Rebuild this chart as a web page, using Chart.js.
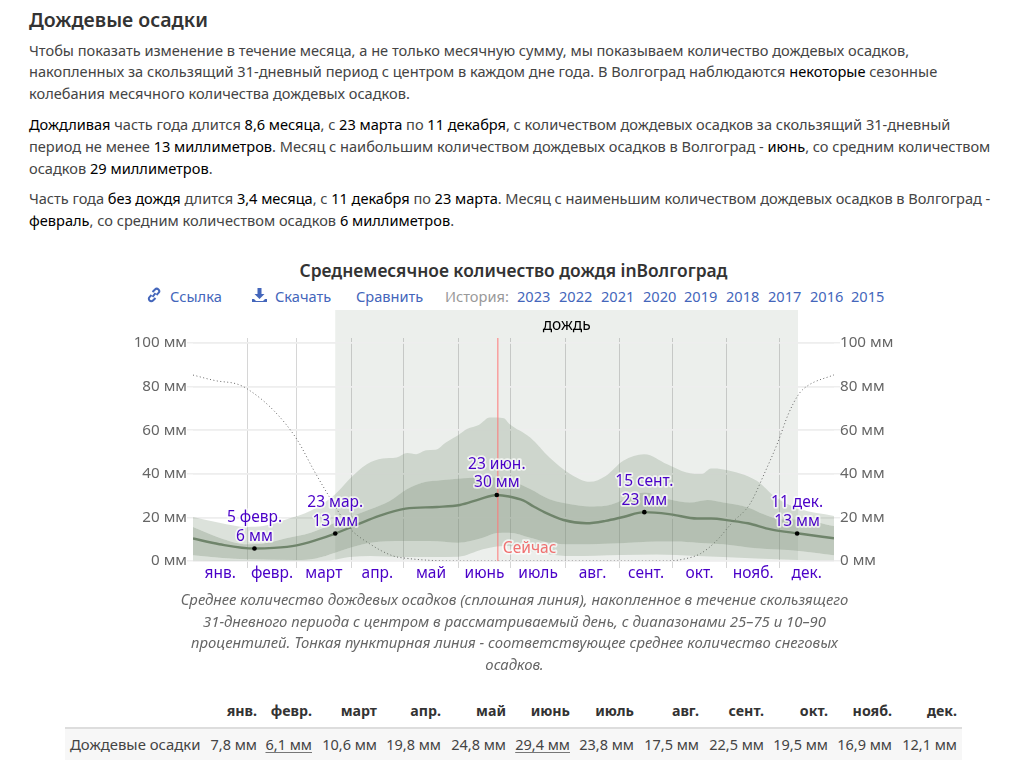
<!DOCTYPE html>
<html lang="ru">
<head>
<meta charset="utf-8">
<title>Дождевые осадки</title>
<script src="https://cdn.jsdelivr.net/npm/chart.js@4"></script>
<style>
  html, body { margin: 0; padding: 0; background: #fff; overflow: hidden; }
  body { width: 1019px; height: 771px; position: relative; font-family: "Noto Sans", sans-serif; color: #444; }
  .t { position: absolute; white-space: nowrap; font-size: 14.6px; line-height: 20px; }
  .t b { font-weight: 400; color: #000; }
  h2 { position: absolute; left: 29px; top: 8px; margin: 0; font-size: 19.5px; line-height: 24px; font-weight: 600; color: #333; }
  #title { position: absolute; left: 0; width: 1027px; top: 259px; text-align: center; font-size: 17.4px; line-height: 22px; font-weight: 600; color: #333; }
  .lnk { color: #4466bb; }
  .hist { color: #999; }
  .cap { position: absolute; left: 0; width: 1029px; text-align: center; font-style: italic; font-size: 14.9px; line-height: 20px; color: #666; white-space: nowrap; }
  svg { position: absolute; }
  #wrap { position: absolute; left: 120px; top: 300px; width: 780px; height: 290px; }
  #rowbg { position: absolute; left: 65px; top: 729px; width: 897px; height: 31px; background: #f7f7f7; }
  #rule { position: absolute; left: 65px; top: 727px; width: 897px; height: 2px; background: #ddd; }
  .th { position: absolute; top: 701px; font-size: 14.2px; line-height: 20px; font-weight: 700; color: #333; text-align: right; white-space: nowrap; }
  .td { position: absolute; top: 734px; font-size: 14.5px; line-height: 20px; color: #444; text-align: right; white-space: nowrap; }
  .td.u { text-decoration: underline; text-decoration-color: #777; text-underline-offset: 2px; }
</style>
</head>
<body>
<h2>Дождевые осадки</h2>
<div class="t" style="left:29px;top:40px">Чтобы показать изменение в течение месяца, а не только месячную сумму, мы показываем количество дождевых осадков,</div>
<div class="t" style="left:29px;top:61px">накопленных за скользящий 31-дневный период с центром в каждом дне года. В Волгоград наблюдаются <b>некоторые</b> сезонные</div>
<div class="t" style="left:29px;top:83px">колебания месячного количества дождевых осадков.</div>
<div class="t" style="left:29px;top:114px;letter-spacing:-0.025px"><b>Дождливая</b> часть года длится <b>8,6 месяца</b>, с <b>23 марта</b> по <b>11 декабря</b>, с количеством дождевых осадков за скользящий 31-дневный</div>
<div class="t" style="left:29px;top:136px;letter-spacing:-0.016px">период не менее <b>13 миллиметров</b>. Месяц с наибольшим количеством дождевых осадков в Волгоград - <b>июнь</b>, со средним количеством</div>
<div class="t" style="left:29px;top:158px">осадков <b>29 миллиметров</b>.</div>
<div class="t" style="left:29px;top:188px;letter-spacing:-0.04px">Часть года <b>без дождя</b> длится <b>3,4 месяца</b>, с <b>11 декабря</b> по <b>23 марта</b>. Месяц с наименьшим количеством дождевых осадков в Волгоград -</div>
<div class="t" style="left:29px;top:210px"><b>февраль</b>, со средним количеством осадков <b>6 миллиметров</b>.</div>

<div id="title">Среднемесячное количество дождя inВолгоград</div>
<svg style="left:146px;top:287px" width="16" height="16" viewBox="0 0 16 16"><path d="M6.5 5 9 2.5a2.4 2.4 0 0 1 3.5 3.4L10.5 8M9.5 11 7 13.5a2.4 2.4 0 0 1-3.5-3.4L5.5 8M6.5 9.8 9.5 6.2" fill="none" stroke="#4466bb" stroke-width="2"/></svg>
<svg style="left:252px;top:287px" width="15" height="16" viewBox="0 0 15 16"><path d="M5.5 1h4v6h3l-5 5-5-5h3zM0 12h2l2 2h7l2-2h2v3H0z" fill="#4466bb"/></svg>
<div class="t lnk" style="left:170px;top:286px">Ссылка</div>
<div class="t lnk" style="left:275px;top:286px">Скачать</div>
<div class="t lnk" style="left:356px;top:286px">Сравнить</div>
<div class="t hist" style="left:445px;top:286px">История:</div>
<div id="years"></div>

<div id="wrap"><canvas id="lluvia" width="780" height="290"></canvas></div>

<div class="cap" style="top:589px">Среднее количество дождевых осадков (сплошная линия), накопленное в течение скользящего</div>
<div class="cap" style="top:611px">31-дневного периода с центром в рассматриваемый день, с диапазонами 25–75 и 10–90</div>
<div class="cap" style="top:632px">процентилей. Тонкая пунктирная линия - соответствующее среднее количество снеговых</div>
<div class="cap" style="top:654px">осадков.</div>

<div id="rowbg"></div>
<div id="rule"></div>
<div class="td" style="left:70px;text-align:left;font-size:14.9px">Дождевые осадки</div>
<div id="tabla"></div>

<script>
// дни года: 0 = 1 янв., 365 = конец декабря
const inicioMes = [0, 31, 59, 90, 120, 151, 181, 212, 243, 273, 304, 334, 365];
const meses = ['янв.', 'февр.', 'март', 'апр.', 'май', 'июнь', 'июль', 'авг.', 'сент.', 'окт.', 'нояб.', 'дек.'];
const mitadMes = meses.map((m, i) => (inicioMes[i] + inicioMes[i + 1]) / 2);

// [день, мм]
const p90 = [[0,20.2],[15,17.6],[31,15.6],[40,16],[53,19],[67,23],[81,30.6],[89,37.5],[99,44.4],[108,47],[116,47.5],[122,49.5],[127,49],[133,50.8],[138,51],[144,54.4],[151,57.7],[156,60.5],[163,62.5],[169,65.8],[177,65.5],[180,63],[192,56.7],[203,47.5],[215,39.8],[226,36.3],[235,39],[245,46],[257,49],[270,44.4],[281,40.6],[290,40],[295,42.4],[302,42],[321,36.8],[332,29],[345,24],[365,20.7]];
const p75 = [[0,15.6],[15,10.7],[31,7.7],[40,8],[53,10.4],[67,13],[81,17.6],[89,20],[101,23.7],[112,27.5],[122,33],[131,36],[141,37],[154,38],[165,38.3],[177,38.3],[180,37.5],[192,33],[203,28.3],[215,26],[226,25],[235,25.3],[248,29],[257,31.4],[271,28.3],[283,26.8],[293,28],[302,26.8],[316,24.5],[325,21.4],[335,19.1],[345,19],[365,16]];
const media = [[0,10.3],[15,7.7],[35,5.7],[46,6],[59,7.2],[70,9.6],[81,12.6],[93,16.5],[106,20.7],[121,24],[139,24.8],[152,25.7],[163,28.3],[173,30.3],[180,29.6],[188,27.8],[194,25],[200,22.4],[211,18.8],[224,17.3],[235,18.4],[245,20.2],[257,22.4],[272,21.4],[287,19.5],[295,19.5],[306,18.5],[316,17.3],[329,14.5],[345,12.6],[365,10.4]];
const p25 = [[0,2.6],[15,1.5],[31,0.8],[59,0.5],[70,1.2],[81,3.8],[89,6],[101,8.4],[120,9.2],[135,9.2],[151,8.4],[165,10.7],[173,12.9],[180,13],[192,10.7],[203,8.4],[215,7.7],[226,7.7],[243,8.1],[264,8.9],[275,8.9],[287,8.4],[302,7.7],[321,5.8],[345,4.6],[365,2.6]];
const p10 = [[0,0.2],[40,0.1],[78,0.3],[89,1.8],[101,2.3],[120,1.8],[135,1.8],[151,2],[165,5.4],[173,6.7],[180,6.9],[192,4.6],[203,3],[215,2.3],[243,2.8],[264,3],[287,2.3],[302,1.8],[321,1.2],[345,0.5],[365,0.3]];
const nieve = [[0,85.3],[13,82.7],[25,81.2],[31,78.9],[46,69],[59,56],[69,41.3],[78,29],[89,15.3],[101,7.7],[114,2.3],[122,1.2],[135,0.3],[150,0],[270,0],[279,0.8],[289,3.4],[298,9.2],[307,17.6],[317,26],[326,41.3],[333,54.4],[339,67.4],[345,76.6],[350,80.4],[365,85.4]];

const aXY = (s) => s.map(([x, y]) => ({x, y}));

const marcas = [
  {dia: 35, mm: 5.7, l1: '5 февр.', l2: '6 мм'},
  {dia: 81, mm: 12.6, l1: '23 мар.', l2: '13 мм'},
  {dia: 173, mm: 30.3, l1: '23 июн.', l2: '30 мм'},
  {dia: 257, mm: 22.4, l1: '15 сент.', l2: '23 мм'},
  {dia: 344, mm: 12.6, l1: '11 дек.', l2: '13 мм'}
];
const hoy = 173.6;
const lluviaDesde = 81, lluviaHasta = 344.5;
const FUENTE = '"Noto Sans", sans-serif';

const bandaExt = 'rgba(116, 139, 112, 0.25)';
const bandaInt = 'rgba(116, 139, 112, 0.47)';

function textoHalo(ctx, txt, x, y, color) {
  ctx.lineJoin = 'round';
  ctx.lineWidth = 3.5;
  ctx.strokeStyle = 'rgba(255,255,255,0.7)';
  ctx.strokeText(txt, x, y);
  ctx.fillStyle = color;
  ctx.fillText(txt, x, y);
}

const fondoLluvia = {
  id: 'fondoLluvia',
  beforeDraw(chart) {
    const {ctx, scales: {x, y}} = chart;
    ctx.save();
    ctx.fillStyle = '#ecefec';
    const x0 = x.getPixelForValue(lluviaDesde), x1 = x.getPixelForValue(lluviaHasta);
    ctx.fillRect(x0, 10, x1 - x0, y.getPixelForValue(0) - 10);
    ctx.font = '15.5px ' + FUENTE;
    ctx.fillStyle = '#000';
    ctx.textAlign = 'center';
    ctx.textBaseline = 'middle';
    ctx.fillText('дождь', (x0 + x1) / 2, 26);
    ctx.restore();
  }
};

const anotaciones = {
  id: 'anotaciones',
  afterDatasetsDraw(chart) {
    const {ctx, scales: {x, y}} = chart;
    ctx.save();
    // línea de hoy
    const xh = x.getPixelForValue(hoy);
    ctx.strokeStyle = '#f77';
    ctx.lineWidth = 1;
    ctx.beginPath();
    ctx.moveTo(xh, y.top);
    ctx.lineTo(xh, y.getPixelForValue(0));
    ctx.stroke();
    ctx.font = '15.5px ' + FUENTE;
    ctx.textAlign = 'left';
    ctx.textBaseline = 'middle';
    textoHalo(ctx, 'Сейчас', xh + 5, y.getPixelForValue(0) - 12, '#f07070');

    ctx.textAlign = 'center';
    for (const m of marcas) {
      const px = x.getPixelForValue(m.dia), py = y.getPixelForValue(m.mm);
      ctx.fillStyle = '#000';
      ctx.beginPath();
      ctx.arc(px, py, 2.3, 0, Math.PI * 2);
      ctx.fill();
      textoHalo(ctx, m.l1, px, py - 30.5, '#4a00c8');
      textoHalo(ctx, m.l2, px, py - 12, '#4a00c8');
    }
    ctx.restore();
  }
};

const ejeY = {
  min: 0,
  max: 102.3,
  afterBuildTicks: (s) => { s.ticks = [0, 20, 40, 60, 80, 100].map(v => ({value: v})); },
  grid: {color: '#eeeeee', lineWidth: 1.5, tickLength: 6, tickColor: '#eeeeee'},
  border: {display: false},
  ticks: {color: '#666', font: {size: 15.2, family: FUENTE}, padding: 0, callback: (v) => v + ' мм'}
};

new Chart(document.getElementById('lluvia'), {
  type: 'line',
  data: {
    datasets: [
      {label: 'p10', data: aXY(p10), pointRadius: 0, borderWidth: 0, fill: false, cubicInterpolationMode: 'monotone'},
      {label: 'p25', data: aXY(p25), pointRadius: 0, borderWidth: 0, fill: 0, backgroundColor: bandaExt, cubicInterpolationMode: 'monotone'},
      {label: 'p75', data: aXY(p75), pointRadius: 0, borderWidth: 0, fill: 1, backgroundColor: bandaInt, cubicInterpolationMode: 'monotone'},
      {label: 'p90', data: aXY(p90), pointRadius: 0, borderWidth: 0, fill: 2, backgroundColor: bandaExt, cubicInterpolationMode: 'monotone'},
      {label: 'снег', data: aXY(nieve), pointRadius: 0, borderWidth: 1, borderColor: '#666', borderDash: [1, 2.5], fill: false, cubicInterpolationMode: 'monotone'},
      {label: 'дождь', data: aXY(media), pointRadius: 0, borderWidth: 2.4, borderColor: '#6b7f66', fill: false, cubicInterpolationMode: 'monotone'}
    ]
  },
  plugins: [fondoLluvia, anotaciones],
  options: {
    animation: false,
    responsive: false,
    layout: {padding: {top: 38}},
    plugins: {legend: {display: false}, tooltip: {enabled: false}},
    scales: {
      x: {
        type: 'linear', min: 0, max: 365, position: 'bottom',
        afterBuildTicks: (s) => { s.ticks = inicioMes.slice(1, 12).map(v => ({value: v})); },
        afterFit: (s) => { s.height = 1; },
        grid: {color: 'rgba(0,0,0,0.16)', lineWidth: 1, tickLength: 7, tickColor: 'rgba(0,0,0,0.16)'},
        border: {display: false},
        ticks: {display: false}
      },
      meses: {
        type: 'linear', min: 0, max: 365, position: 'bottom',
        afterBuildTicks: (s) => { s.ticks = mitadMes.map(v => ({value: v})); },
        afterFit: (s) => { s.height = 28; },
        grid: {display: false, drawTicks: false},
        border: {display: false},
        ticks: {
          color: '#4a00c8', padding: 2, maxRotation: 0, autoSkip: false,
          font: {size: 15.5, family: FUENTE},
          callback: (v) => meses[mitadMes.indexOf(v)]
        }
      },
      y: {...ejeY, position: 'left', afterFit: (s) => { s.width = 73; }},
      y2: {...ejeY, position: 'right', grid: {...ejeY.grid}, afterFit: (s) => { s.width = 66; }}
    }
  }
});

// панель ссылок и таблица
const anos = [[517, 2023], [559, 2022], [601, 2021], [643, 2020], [684, 2019], [726, 2018], [768, 2017], [810, 2016], [851, 2015]];
document.getElementById('years').innerHTML = anos.map(([l, a]) => `<div class="t lnk" style="left:${l}px;top:286px">${a}</div>`).join('');

const mensual = ['7,8', '6,1', '10,6', '19,8', '24,8', '29,4', '23,8', '17,5', '22,5', '19,5', '16,9', '12,1'];
const bordes = [257, 312, 377, 441, 506, 570, 634, 699, 764, 828, 892, 957];
document.getElementById('tabla').innerHTML = meses.map((m, i) => {
  const der = 1019 - bordes[i];
  const u = (i === 1 || i === 5) ? ' u' : '';
  return `<div class="th" style="right:${der}px">${m}</div><div class="td${u}" style="right:${der}px">${mensual[i]} мм</div>`;
}).join('');
</script>
</body>
</html>
